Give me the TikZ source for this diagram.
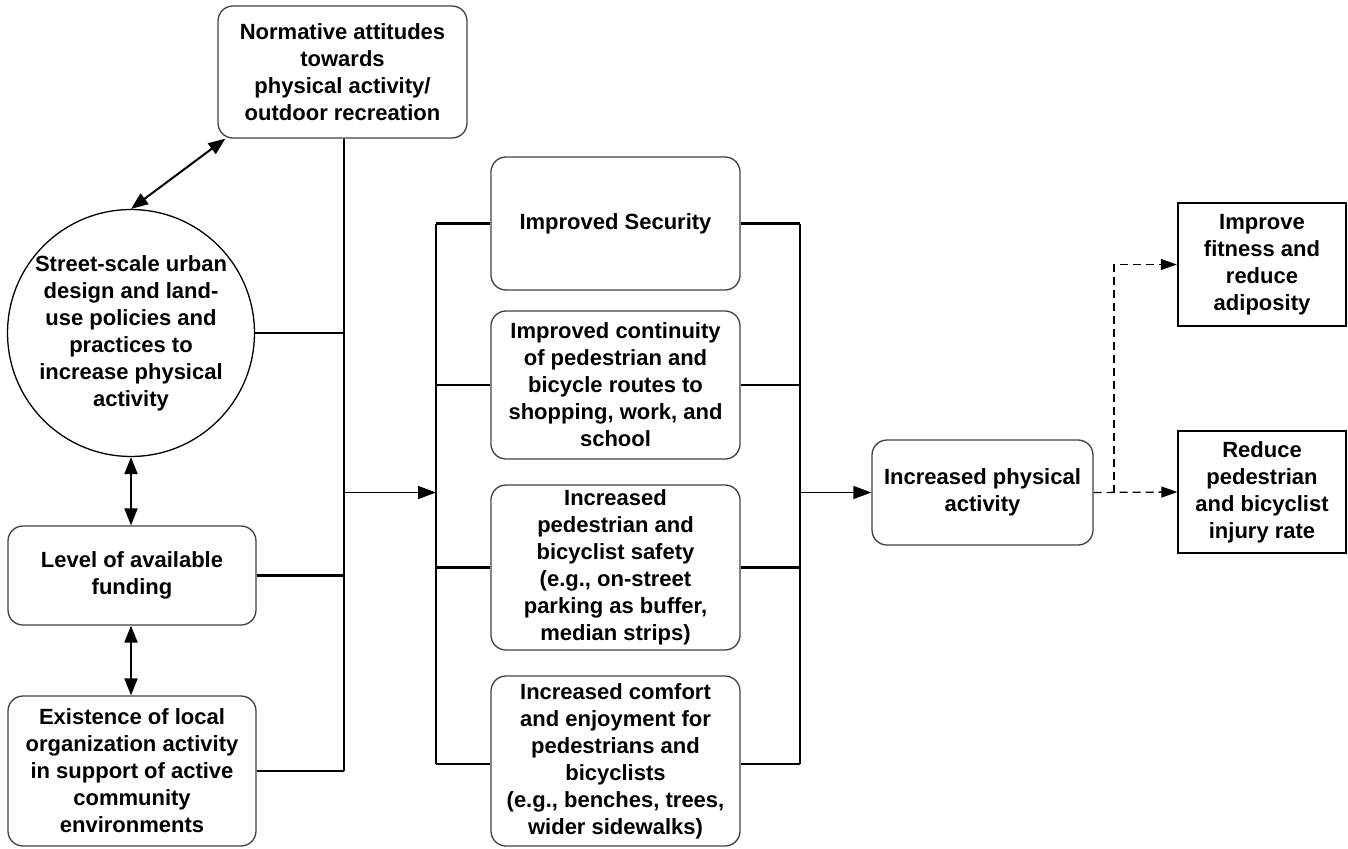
\documentclass[tikz,border=0pt]{standalone}
\usepackage{fontspec}
\setmainfont{Liberation Sans}
\usetikzlibrary{arrows.meta,positioning}
\definecolor{EdgeGray}{HTML}{404040}

\begin{document}
\begin{tikzpicture}[x=1pt, y=-1pt,
    rbox/.style={draw=EdgeGray, line width=1.3pt, rounded corners=15pt, align=center,
                 font=\fontsize{22}{27}\selectfont\bfseries, inner sep=2pt},
    sqbox/.style={draw=black, line width=1.3pt, align=center,
                  font=\fontsize{22}{27}\selectfont\bfseries, inner sep=2pt},
    circ/.style={draw=black, line width=1.3pt, circle, align=center,
                 font=\fontsize{22}{27}\selectfont\bfseries, inner sep=0pt},
    bus/.style={line width=2.2pt},
    arr/.style={line width=1.3pt, -{Triangle[length=18pt,width=13pt]}},
    dbl/.style={line width=2pt, {Triangle[length=17pt,width=13pt]}-{Triangle[length=17pt,width=13pt]}},
    dsh/.style={line width=1.3pt, dash pattern=on 8pt off 5pt, -{Triangle[length=16pt,width=11pt]}}
  ]
    \useasboundingbox (0,0) rectangle (1348,848);

    % left column
    \node[rbox, minimum width=249pt, minimum height=132pt] (norm) at (342.5,72)
      {Normative attitudes\\towards\\physical activity/\\outdoor recreation};
    \node[circ, minimum size=242pt] (street) at (131,333)
      {Street-scale urban\\design and land-\\use policies and\\practices to\\increase physical\\activity};
    \node[rbox, minimum width=248pt, minimum height=99pt] (fund) at (132,575.5)
      {Level of available\\funding};
    \node[rbox, minimum width=248pt, minimum height=150pt] (org) at (132,771)
      {Existence of local\\organization activity\\in support of active\\community\\environments};

    % middle column
    \node[rbox, minimum width=249pt, minimum height=133pt] (sec) at (615.5,223.5)
      {Improved Security};
    \node[rbox, minimum width=249pt, minimum height=148pt] (cont) at (615.5,385)
      {Improved continuity\\of pedestrian and\\bicycle routes to\\shopping, work, and\\school};
    \node[rbox, minimum width=249pt, minimum height=165pt] (safe) at (615.5,567.5)
      {Increased\\pedestrian and\\bicyclist safety\\(e.g., on-street\\parking as buffer,\\median strips)};
    \node[rbox, minimum width=249pt, minimum height=170pt] (comf) at (615.5,761)
      {Increased comfort\\and enjoyment for\\pedestrians and\\bicyclists\\(e.g., benches, trees,\\wider sidewalks)};

    % right column
    \node[rbox, minimum width=221pt, minimum height=105pt] (pa) at (982.5,492.5)
      {Increased physical\\activity};
    \node[sqbox, line width=2.4pt, minimum width=168pt, minimum height=123pt] (fit) at (1262,264.5)
      {Improve\\fitness and\\reduce\\adiposity};
    \node[sqbox, minimum width=168pt, minimum height=122pt] (inj) at (1262,492)
      {Reduce\\pedestrian\\and bicyclist\\injury rate};

    \coordinate (lbar) at (436,0);
    \coordinate (rbar) at (800,0);
    \coordinate (split) at (1114,0);

    % double arrows
    \draw[dbl] (street.north) -- ([xshift=8pt]norm.south west);
    \draw[dbl] (street.south) -- (street.south |- fund.north);
    \draw[dbl] (street.south |- fund.south) -- (street.south |- org.north);

    % bus from left column
    \draw[bus] ([xshift=1.5pt]norm.south) -- ([xshift=1.5pt]norm.south |- org.east);
    \draw[bus] (street.east) -- ([xshift=1.5pt]street.east -| norm.south);
    \draw[bus] (fund.east) -- ([xshift=1.5pt]fund.east -| norm.south);
    \draw[bus] (org.east) -- ([xshift=1.5pt]org.east -| norm.south);
    \draw[arr] ([xshift=1.5pt]norm.south |- pa.west) -- (lbar |- pa.west);

    % brackets round the middle column
    \draw[bus] (sec.west -| lbar) -- ([yshift=-3pt]comf.west -| lbar);
    \draw[bus] (sec.east -| rbar) -- ([yshift=-3pt]comf.east -| rbar);
    \foreach \n in {sec,cont,safe} {
      \draw[bus] (\n.west) -- (\n.west -| lbar);
      \draw[bus] (\n.east) -- (\n.east -| rbar);
    }
    \draw[bus] ([yshift=-3pt]comf.west) -- ([yshift=-3pt]comf.west -| lbar);
    \draw[bus] ([yshift=-3pt]comf.east) -- ([yshift=-3pt]comf.east -| rbar);
    \draw[arr] (rbar |- pa.west) -- (pa.west);

    % outcomes
    \draw[dsh] (pa.east) -- (inj.west);
    \draw[dsh] (split |- pa.east) -- (split |- fit.west) -- (fit.west);
  \end{tikzpicture}
\end{document}
